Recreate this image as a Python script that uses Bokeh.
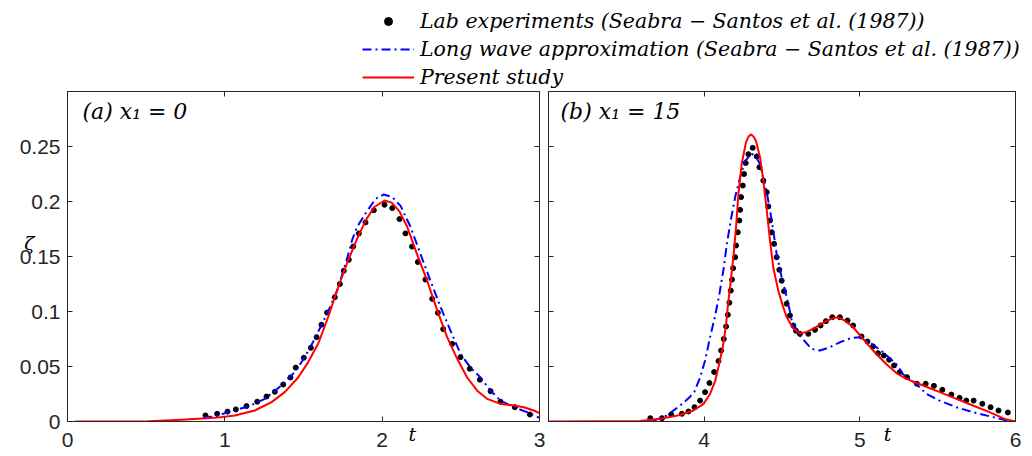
from bokeh.plotting import figure
from bokeh.models import (Range1d, FixedTicker, LinearAxis, Label, Legend,
                          LegendItem, ColumnDataSource)
from bokeh.layouts import column, row
from bokeh.embed import file_html
from bokeh.resources import INLINE

# ---------------- data ----------------
# panel (a) x1 = 0
a_t_exp = [0.877, 0.951, 1.017, 1.07, 1.138, 1.206, 1.265, 1.318, 1.371, 1.417,
           1.451, 1.502, 1.547, 1.583, 1.614, 1.65, 1.699, 1.731, 1.756, 1.788,
           1.816, 1.852, 1.894, 1.947, 2.015, 2.064, 2.11, 2.148, 2.19, 2.227,
           2.275, 2.318, 2.354, 2.388, 2.445, 2.498, 2.557, 2.621, 2.689, 2.752,
           2.843, 2.939]
a_z_exp = [0.0055, 0.007, 0.009, 0.011, 0.014, 0.018, 0.0227, 0.027, 0.0336, 0.040,
           0.049, 0.058, 0.067, 0.0767, 0.088, 0.099, 0.113, 0.125, 0.137, 0.147,
           0.159, 0.171, 0.181, 0.192, 0.197, 0.194, 0.184, 0.171, 0.159, 0.145,
           0.129, 0.1115, 0.0988, 0.084, 0.0706, 0.0585, 0.048, 0.038, 0.0276, 0.018,
           0.013, 0.0064]

a_t_long = [0.862, 0.936, 1.021, 1.148, 1.254, 1.36, 1.445, 1.508, 1.566, 1.65,
            1.714, 1.777, 1.809, 1.841, 1.894, 1.958, 2.011, 2.064, 2.117, 2.18,
            2.244, 2.307, 2.371, 2.434, 2.498, 2.561, 2.625, 2.689, 2.752, 2.837,
            2.92, 3.0]
a_z_long = [0.004, 0.0045, 0.0085, 0.0136, 0.0206, 0.0327, 0.045, 0.0585, 0.0736, 0.098,
            0.119, 0.148, 0.165, 0.177, 0.189, 0.2024, 0.2064, 0.204, 0.196, 0.177,
            0.152, 0.128, 0.104, 0.0827, 0.0615, 0.049, 0.040, 0.028, 0.019, 0.013,
            0.0085, 0.0033]

a_t_present = [0.05, 0.3, 0.513, 0.725, 0.936, 1.064, 1.19, 1.297, 1.381, 1.466,
               1.53, 1.593, 1.657, 1.72, 1.78, 1.84, 1.9, 1.95, 2.015, 2.06,
               2.11, 2.159, 2.222, 2.286, 2.35, 2.413, 2.477, 2.54, 2.604, 2.667,
               2.752, 2.837, 2.90, 2.964, 3.0]
a_z_present = [0.0, 0.0001, 0.0003, 0.0015, 0.0033, 0.0055, 0.010, 0.0176, 0.0267, 0.040,
               0.054, 0.0706, 0.095, 0.122, 0.145, 0.166, 0.184, 0.195, 0.2009, 0.199,
               0.191, 0.177, 0.152, 0.128, 0.101, 0.0767, 0.057, 0.040, 0.028, 0.0206,
               0.016, 0.0145, 0.013, 0.010, 0.0076]

# panel (b) x1 = 15
b_t_exp = [3.654, 3.729, 3.788, 3.857, 3.899, 3.938, 3.974, 4.006, 4.034, 4.064,
           4.092, 4.109, 4.126, 4.141, 4.152, 4.162, 4.171, 4.179, 4.186, 4.199,
           4.205, 4.216, 4.226, 4.231, 4.237, 4.248, 4.256, 4.267, 4.284, 4.312,
           4.338, 4.355, 4.380, 4.402, 4.412, 4.423, 4.434, 4.449, 4.466, 4.483,
           4.498, 4.513, 4.530, 4.551, 4.573, 4.59, 4.615, 4.669, 4.712, 4.748,
           4.782, 4.823, 4.872, 4.921, 4.957, 5.011, 5.049, 5.085, 5.117, 5.154,
           5.188, 5.22, 5.256, 5.303, 5.367, 5.423, 5.476, 5.530, 5.588, 5.641,
           5.684, 5.731, 5.787, 5.840, 5.891, 5.951]
b_z_exp = [0.003, 0.003, 0.0064, 0.007, 0.0091, 0.013, 0.019, 0.0267, 0.035, 0.045,
           0.055, 0.0645, 0.075, 0.0864, 0.097, 0.108, 0.119, 0.129, 0.1394, 0.1494,
           0.160, 0.172, 0.1827, 0.1924, 0.204, 0.2145, 0.225, 0.235, 0.243, 0.2488,
           0.241, 0.2312, 0.219, 0.2085, 0.1955, 0.1827, 0.172, 0.1615, 0.1494, 0.1379,
           0.128, 0.1185, 0.107, 0.0964, 0.0873, 0.0825, 0.0797, 0.0797, 0.0833, 0.0873,
           0.0912, 0.0948, 0.0948, 0.0918, 0.0873, 0.0773, 0.0727, 0.0682, 0.0621, 0.060,
           0.0561, 0.051, 0.0448, 0.0403, 0.0343, 0.0343, 0.0324, 0.0288, 0.0245, 0.0215,
           0.019, 0.019, 0.0161, 0.013, 0.010, 0.0082]

b_t_long = [3.67, 3.76, 3.846, 3.906, 3.936, 3.974, 4.006, 4.038, 4.071, 4.098,
            4.124, 4.146, 4.171, 4.199, 4.231, 4.263, 4.306, 4.33, 4.359, 4.38,
            4.402, 4.434, 4.466, 4.498, 4.541, 4.562, 4.615, 4.69, 4.744, 4.808,
            4.872, 4.947, 5.0, 5.064, 5.149, 5.235, 5.278, 5.363, 5.428, 5.513,
            5.62, 5.726, 5.855, 5.94, 6.0]
b_z_long = [0.0005, 0.0055, 0.0145, 0.022, 0.0267, 0.040, 0.0555, 0.0767, 0.0964, 0.116,
            0.138, 0.1615, 0.183, 0.204, 0.222, 0.237, 0.2433, 0.241, 0.234, 0.221,
            0.2085, 0.183, 0.152, 0.131, 0.107, 0.092, 0.078, 0.066, 0.0645, 0.0676,
            0.072, 0.076, 0.0767, 0.072, 0.063, 0.052, 0.043, 0.034, 0.025, 0.019,
            0.013, 0.0085, 0.004, 0.001, 0.0]

b_t_present = [3.0, 3.3, 3.59, 3.718, 3.846, 3.931, 3.996, 4.038, 4.071, 4.096,
               4.12, 4.139, 4.156, 4.171, 4.188, 4.205, 4.22, 4.242, 4.269, 4.285,
               4.301, 4.317, 4.333, 4.359, 4.38, 4.402, 4.423, 4.444, 4.476, 4.508,
               4.53, 4.57, 4.615, 4.66, 4.72, 4.78, 4.83, 4.86, 4.9, 4.957,
               5.021, 5.085, 5.171, 5.235, 5.30, 5.406, 5.513, 5.62, 5.726, 5.833,
               5.93, 6.0]
b_z_present = [0.0, 0.0002, 0.0005, 0.0024, 0.006, 0.010, 0.016, 0.025, 0.037, 0.052,
               0.068, 0.086, 0.11, 0.128, 0.150, 0.177, 0.207, 0.235, 0.254, 0.259,
               0.261, 0.259, 0.255, 0.240, 0.219, 0.192, 0.1645, 0.140, 0.119, 0.104,
               0.095, 0.085, 0.080, 0.0815, 0.086, 0.091, 0.094, 0.0948, 0.092, 0.0857,
               0.0752, 0.0645, 0.052, 0.044, 0.0388, 0.0327, 0.0267, 0.0206, 0.0145, 0.0085,
               0.0024, 0.0]

y_ticks = [0, 0.05, 0.1, 0.15, 0.2, 0.25]
y_tick_labels = ["0", "0.05", "0.1", "0.15", "0.2", "0.25"]
a_x_ticks = [0, 1, 2, 3]
a_x_tick_labels = ["0", "1", "2", "3"]
b_x_ticks = [4, 5, 6]
b_x_tick_labels = ["4", "5", "6"]

legend_labels = ["Lab experiments (Seabra − Santos et al. (1987))",
                 "Long wave approximation (Seabra − Santos et al. (1987))",
                 "Present study"]
panel_titles = ["(a) x₁ = 0", "(b) x₁ = 15"]
x_label = "t"
y_label = "ζ"

# ---------------- styling ----------------
AX = "#262626"
TICK_FONT = "Liberation Sans"
SERIF = "DejaVu Serif"
BLUE = "#0000FF"
RED = "#FF0000"
DASHDOT = "9 4 2 4"
NBSP = "\u00a0"


def style_axis(ax, ticks, labels, standoff):
    ax.ticker = FixedTicker(ticks=ticks)
    ax.axis_line_color = AX
    ax.axis_line_width = 1
    ax.major_tick_line_color = AX
    ax.major_tick_line_width = 1
    ax.major_tick_in = 5
    ax.major_tick_out = 0
    ax.minor_tick_line_color = None
    ax.major_label_text_font = TICK_FONT
    ax.major_label_text_color = AX
    if labels is None:
        ax.major_label_overrides = {t: "" for t in ticks}
        ax.major_label_text_font_size = "0px"
        ax.major_label_standoff = 0
    else:
        ax.major_label_overrides = dict(zip(ticks, labels))
        ax.major_label_text_font_size = "21px"
        ax.major_label_standoff = standoff


def make_panel(xr, xticks, xlabels, show_ylab, width, bl, br, title, tx, pad,
               t_exp, z_exp, t_long, z_long, t_pre, z_pre):
    p = figure(width=width, height=367, x_range=Range1d(*xr), y_range=Range1d(0, 0.3),
               output_backend="svg", toolbar_location=None,
               min_border_left=bl, min_border_right=br, min_border_top=2,
               min_border_bottom=35)
    p.xgrid.visible = False
    p.ygrid.visible = False
    p.outline_line_color = AX
    p.background_fill_color = "white"
    p.border_fill_color = "white"

    xa = p.xaxis[0]
    style_axis(xa, xticks, xlabels, 11)
    # the "t" label sits on the tick-label row, right of the middle tick
    xa.axis_label = NBSP * pad + x_label
    xa.axis_label_text_font = SERIF
    xa.axis_label_text_font_style = "italic"
    xa.axis_label_text_font_size = "19px"
    xa.axis_label_text_color = "black"
    xa.axis_label_standoff = -27

    style_axis(p.yaxis[0], y_ticks, y_tick_labels if show_ylab else None, 7)
    top = LinearAxis()
    style_axis(top, xticks, None, 0)
    p.add_layout(top, "above")
    right = LinearAxis()
    style_axis(right, y_ticks, None, 0)
    p.add_layout(right, "right")

    p.scatter(t_exp, z_exp, size=5, color="black")
    p.line(t_long, z_long, line_color=BLUE, line_width=2, line_dash=DASHDOT)
    p.line(t_pre, z_pre, line_color=RED, line_width=2, line_join="round")

    p.add_layout(Label(x=tx, y=0.282, text=title, text_font=SERIF,
                       text_font_style="italic", text_font_size="22px",
                       text_baseline="middle", text_align="left", text_color="black"))
    return p


pa = make_panel((0, 3), a_x_ticks, a_x_tick_labels, True, 546, 67, 7,
                panel_titles[0], 0.095, 36,
                a_t_exp, a_z_exp, a_t_long, a_z_long, a_t_present, a_z_present)
ya = pa.yaxis[0]
ya.axis_label = y_label + "\n" + NBSP
ya.axis_label_orientation = "horizontal"
ya.axis_label_text_font = SERIF
ya.axis_label_text_font_style = "italic"
ya.axis_label_text_font_size = "19px"
ya.axis_label_text_color = "black"
ya.axis_label_standoff = -18

pb = make_panel((3, 6), b_x_ticks, b_x_tick_labels, False, 486, 2, 17,
                panel_titles[1], 3.077, 35,
                b_t_exp, b_z_exp, b_t_long, b_z_long, b_t_present, b_z_present)

# ---------------- legend strip ----------------
leg_fig = figure(width=1032, height=89, x_range=Range1d(0, 1), y_range=Range1d(0, 1),
                 output_backend="svg", toolbar_location=None,
                 x_axis_type=None, y_axis_type=None, min_border=0,
                 outline_line_color=None)
leg_fig.xgrid.visible = False
leg_fig.ygrid.visible = False
nan_src = ColumnDataSource(data=dict(x=[float("nan")], y=[float("nan")]))
r1 = leg_fig.scatter("x", "y", source=nan_src, size=4.5, color="black")
r2 = leg_fig.line("x", "y", source=nan_src, line_color=BLUE, line_width=2, line_dash=DASHDOT)
r3 = leg_fig.line("x", "y", source=nan_src, line_color=RED, line_width=2)
legend = Legend(items=[LegendItem(label=legend_labels[0], renderers=[r1]),
                       LegendItem(label=legend_labels[1], renderers=[r2]),
                       LegendItem(label=legend_labels[2], renderers=[r3])],
                location=(362, 0), orientation="vertical",
                glyph_width=52, glyph_height=20, label_height=20, label_standoff=6,
                spacing=4, padding=0, margin=0,
                border_line_color=None, background_fill_alpha=0,
                label_text_font=SERIF, label_text_font_style="italic",
                label_text_font_size="20.5px", label_text_color="black")
leg_fig.add_layout(legend)

layout = column(leg_fig, row(pa, pb))
open("out.html", "w").write(file_html(layout, INLINE))
